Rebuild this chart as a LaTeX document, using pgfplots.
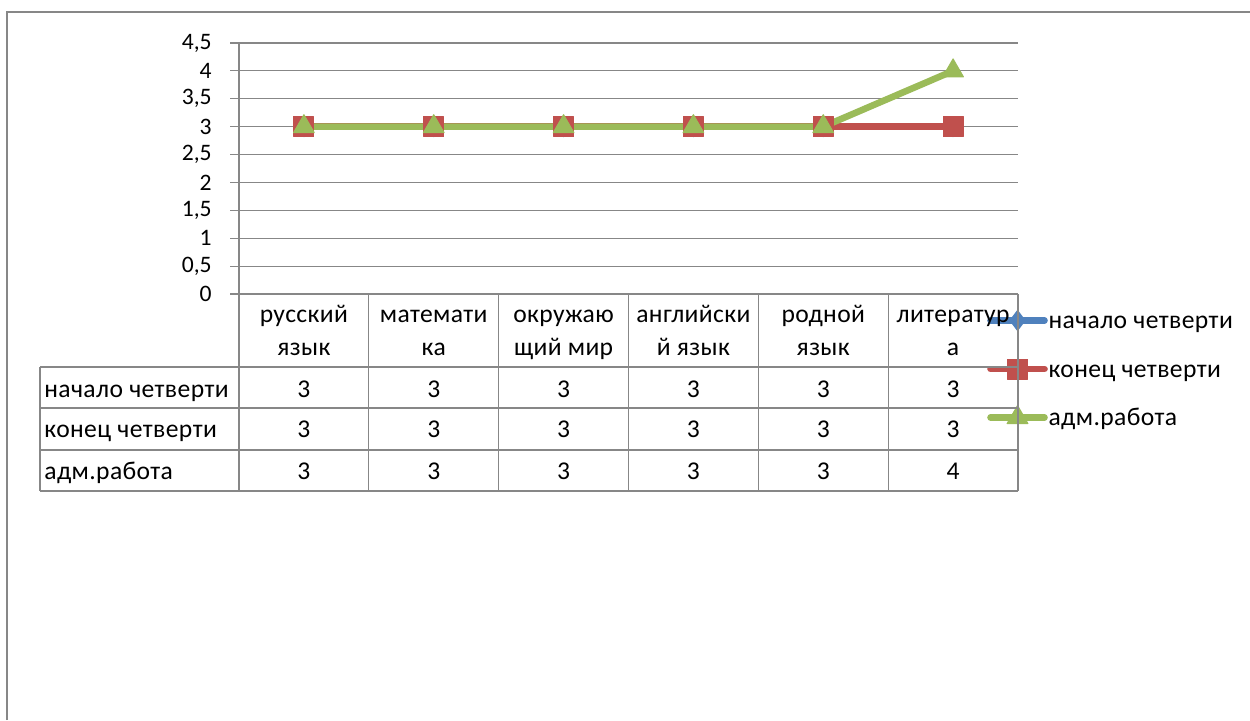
\documentclass[border=0pt]{standalone}
\usepackage{fontspec}
\setmainfont{Carlito}[LetterSpace=1.5]
\newfontfamily\tickfamily{Carlito}
\usepackage{pgfplots}
\pgfplotsset{compat=1.18}
\definecolor{sblue}{HTML}{4F81BD}
\definecolor{sred}{HTML}{C0504D}
\definecolor{sgreen}{HTML}{9BBB59}
\definecolor{gridgray}{HTML}{878787}
\newcommand\chartfont{\fontsize{12.8}{15}\selectfont}
\newcommand\tickfont{\tickfamily\fontsize{11.8}{14}\selectfont}
\begin{document}
\begin{tikzpicture}[font=\chartfont]
\useasboundingbox (0,0) rectangle (625pt,360pt);
\draw[gridgray, line width=0.6pt] (3.5pt,0) -- (3.5pt,354pt) -- (625pt,354pt);
\begin{axis}[
  at={(119.5pt,213pt)}, anchor=south west,
  scale only axis, width=389.5pt, height=125.5pt,
  xmin=0, xmax=6, ymin=0, ymax=4.5,
  xtick=\empty,
  ytick={0,0.5,1,1.5,2,2.5,3,3.5,4,4.5},
  yticklabels={0,{0,5},1,{1,5},2,{2,5},3,{3,5},4,{4,5}},
  yticklabel style={font=\tickfont, inner sep=0pt, xshift=-9pt},
  axis lines*=left,
  axis line style={gridgray, line width=0.6pt},
  tick align=outside, major tick length=4.5pt,
  ytick style={gridgray, line width=0.6pt},
  ymajorgrids, grid style={gridgray, line width=0.6pt},
  clip=false,
  legend style={draw=none, fill=none, at={(0.96,-0.2988)}, anchor=west,
    inner sep=0pt, row sep=11.25pt, font=\chartfont,
    nodes={inner sep=0pt, text height=10pt, text depth=2pt},
    cells={anchor=west}},
  legend image code/.code={\path[draw=none, fill=none] (0pt,-6.5pt) rectangle (29pt,6.5pt);
    \draw[mark repeat=2,mark phase=2,#1] plot coordinates {(0pt,0pt)(13.5pt,0pt)(27pt,0pt)};},
  every axis plot/.append style={line width=3.3pt, line cap=round, line join=round},
]
\addplot[sblue, mark=diamond*, mark size=5pt, mark options={solid, line width=0.5pt}]
  coordinates {(0.5,3)(1.5,3)(2.5,3)(3.5,3)(4.5,3)(5.5,3)};
\addlegendentry{начало четверти}
\addplot[sred, mark=square*, mark size=5pt, mark options={solid, line width=0.5pt}]
  coordinates {(0.5,3)(1.5,3)(2.5,3)(3.5,3)(4.5,3)(5.5,3)};
\addlegendentry{конец четверти}
\addplot[sgreen, mark=triangle*, mark size=6pt, mark options={solid, line width=0.5pt}]
  coordinates {(0.5,3)(1.5,3)(2.5,3)(3.5,3)(4.5,3)(5.5,4)};
\addlegendentry{адм.работа}
\end{axis}
% data table
\begin{scope}[gridgray, line width=0.6pt]
  \foreach \y in {176.5,156,135,114.5} \draw (20pt,\y pt) -- (509pt,\y pt);
  \draw (20pt,176.5pt) -- (20pt,114.5pt);
  \draw (119.5pt,213pt) -- (119.5pt,114.5pt);
  \foreach \i in {1,...,6} \draw ({119.5pt+64.9167pt*\i},213pt) -- ({119.5pt+64.9167pt*\i},114.5pt);
\end{scope}
\def\cx#1{{119.5pt+64.9167pt*(#1+0.5)}}
\foreach \i/\a/\b in {0/русский/язык,1/математи/ка,2/окружаю/щий мир,3/английски/й язык,4/родной/язык,5/литератур/а}{
  \node[anchor=base, inner sep=0pt] at (\cx{\i},199pt) {\a};
  \node[anchor=base, inner sep=0pt] at (\cx{\i},182.5pt) {\b};
}
\node[anchor=base west, inner sep=0pt] at (22pt,161.5pt) {начало четверти};
\node[anchor=base west, inner sep=0pt] at (22pt,141.25pt) {конец четверти};
\node[anchor=base west, inner sep=0pt] at (22pt,120.5pt) {адм.работа};
\foreach \i/\a/\b/\c in {0/3/3/3,1/3/3/3,2/3/3/3,3/3/3/3,4/3/3/3,5/3/3/4}{
  \node[anchor=base, inner sep=0pt] at (\cx{\i},161.5pt) {\a};
  \node[anchor=base, inner sep=0pt] at (\cx{\i},141.25pt) {\b};
  \node[anchor=base, inner sep=0pt] at (\cx{\i},120.5pt) {\c};
}
\end{tikzpicture}
\end{document}
